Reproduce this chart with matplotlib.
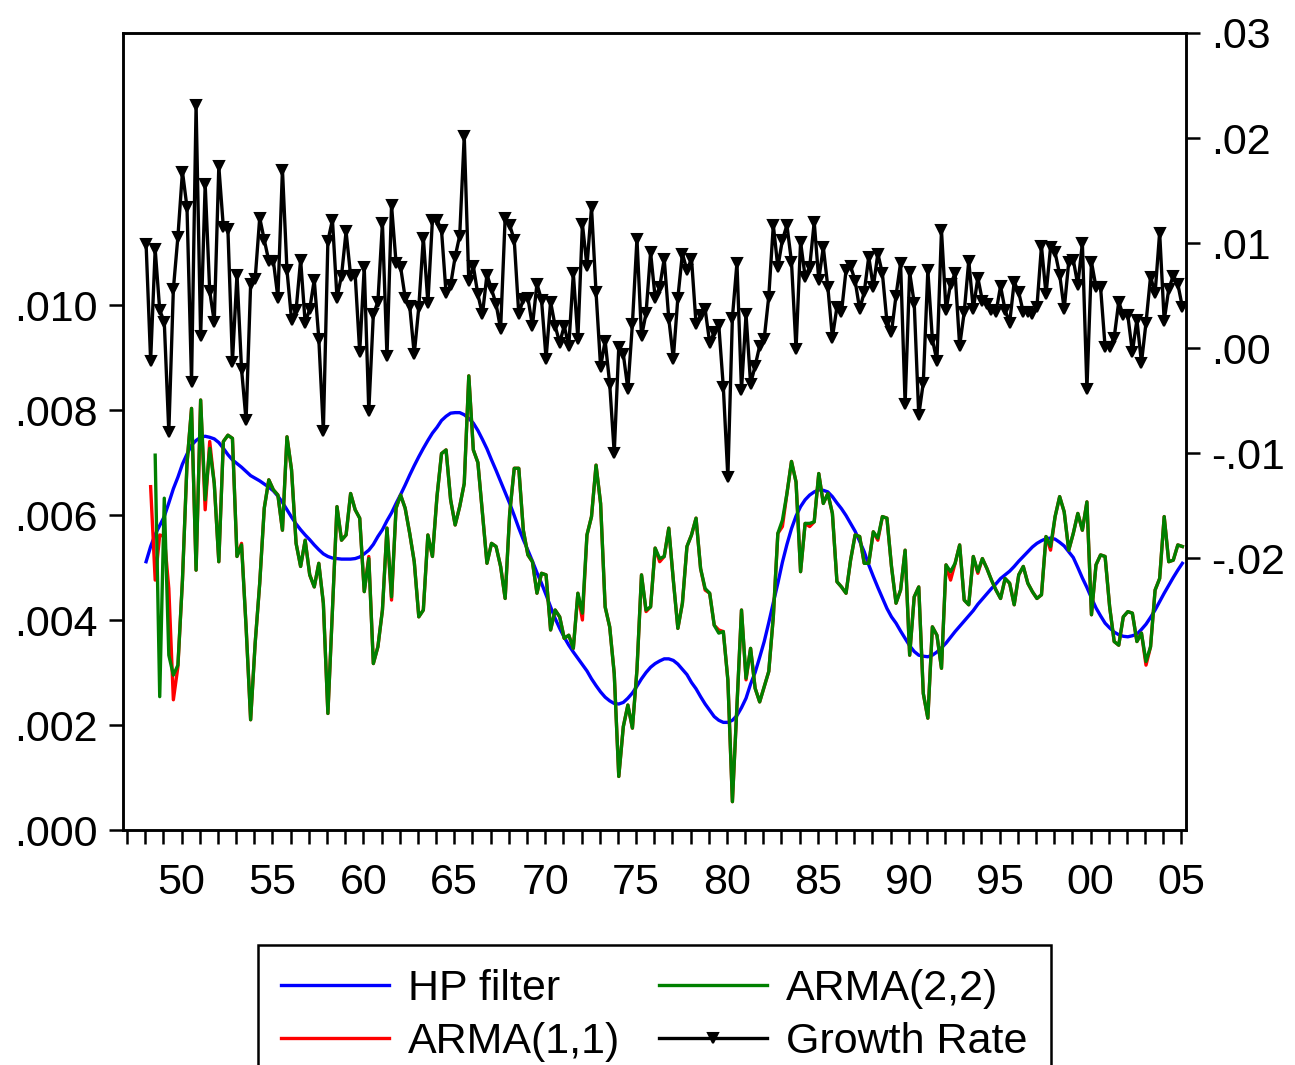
import numpy as np
import matplotlib.pyplot as plt

plt.rcParams['font.family'] = ['Liberation Sans', 'DejaVu Sans']

# quarterly series, 1948Q1 - 2005Q1, values in units of 0.001
growth = [9.9, -1.2, 9.4, 3.6, 2.5, -8.0, 5.6, 10.6, 16.8, 13.4,
          -3.2, 23.1, 1.1, 15.6, 5.4, 2.5, 17.3, 11.5, 11.3, -1.3,
          7.0, -2.0, -6.9, 6.1, 6.6, 12.4, 10.3, 8.3, 8.3, 4.8,
          17.0, 7.4, 2.7, 3.6, 8.4, 2.4, 3.7, 6.5, 0.9, -7.9,
          10.2, 12.2, 4.8, 6.9, 11.1, 6.9, 7.0, -0.4, 7.7, -6.0,
          3.2, 4.4, 11.9, -0.8, 13.6, 8.1, 7.7, 4.8, 4.0, -0.6,
          3.9, 10.5, 4.3, 12.2, 12.2, 11.2, 5.2, 6.0, 8.7, 10.7,
          20.2, 6.4, 7.8, 5.1, 3.2, 7.0, 5.6, 4.2, 1.8, 12.4,
          11.7, 10.3, 3.2, 4.7, 4.8, 2.1, 6.1, 4.6, -1.0, 4.4,
          2.1, 0.5, 2.1, 0.2, 7.1, 0.9, 11.8, 7.8, 13.4, 5.3,
          -1.8, 0.7, -3.4, -10.0, 0.1, -0.6, -3.9, 2.3, 10.4, 1.1,
          3.3, 9.1, 4.8, 5.8, 8.5, 2.8, -1.0, 4.8, 9.0, 7.4,
          8.5, 2.3, 3.1, 3.7, 0.5, 1.5, 2.2, -3.7, -12.3, 2.9,
          8.1, -4.0, 3.2, -3.4, -1.7, 0.2, 0.9, 4.9, 11.7, 7.7,
          10.3, 11.7, 8.2, -0.1, 10.1, 6.8, 7.7, 12.0, 6.5, 9.6,
          5.8, 1.0, 3.9, 3.4, 7.4, 7.8, 6.4, 3.7, 5.3, 8.7,
          5.8, 9.0, 7.1, 2.5, 1.5, 5.0, 8.1, -5.3, 7.2, 4.3,
          -6.4, -3.3, 7.4, 0.8, -1.2, 11.2, 3.6, 6.1, 7.1, 0.2,
          3.4, 8.3, 3.7, 6.7, 4.5, 4.2, 3.6, 3.4, 5.9, 3.6,
          2.4, 6.3, 5.3, 3.4, 3.4, 3.2, 3.9, 9.7, 5.1, 9.6,
          9.1, 7.0, 3.7, 8.2, 8.4, 6.0, 10.0, -3.9, 8.2, 5.8,
          5.8, 0.1, 0.1, 1.0, 4.4, 3.1, 3.1, -0.4, 2.7, -1.4,
          2.4, 6.8, 5.2, 11.0, 2.6, 5.6, 6.9, 6.1, 3.9]

hp = [5.11, 5.40, 5.63, 5.80, 5.97, 6.23, 6.50, 6.72, 6.97, 7.16,
      7.33, 7.42, 7.48, 7.50, 7.48, 7.45, 7.38, 7.27, 7.15, 7.05,
      6.98, 6.91, 6.83, 6.75, 6.70, 6.65, 6.59, 6.53, 6.46, 6.36,
      6.24, 6.10, 5.96, 5.83, 5.72, 5.62, 5.53, 5.43, 5.34, 5.26,
      5.21, 5.18, 5.17, 5.16, 5.16, 5.16, 5.17, 5.20, 5.26, 5.33,
      5.44, 5.59, 5.72, 5.89, 6.04, 6.22, 6.39, 6.57, 6.76, 6.94,
      7.11, 7.27, 7.42, 7.56, 7.67, 7.80, 7.88, 7.94, 7.95, 7.95,
      7.91, 7.84, 7.75, 7.61, 7.44, 7.26, 7.05, 6.85, 6.64, 6.43,
      6.22, 5.99, 5.75, 5.53, 5.33, 5.12, 4.90, 4.70, 4.48, 4.25,
      4.03, 3.84, 3.67, 3.52, 3.39, 3.27, 3.15, 3.03, 2.88, 2.75,
      2.63, 2.53, 2.46, 2.41, 2.40, 2.43, 2.51, 2.61, 2.74, 2.88,
      3.00, 3.10, 3.17, 3.22, 3.26, 3.26, 3.23, 3.16, 3.06, 2.96,
      2.81, 2.69, 2.54, 2.40, 2.28, 2.16, 2.09, 2.05, 2.05, 2.09,
      2.18, 2.33, 2.51, 2.78, 3.00, 3.29, 3.59, 3.95, 4.33, 4.70,
      5.10, 5.44, 5.74, 5.98, 6.16, 6.29, 6.38, 6.44, 6.48, 6.47,
      6.44, 6.35, 6.23, 6.12, 5.99, 5.84, 5.69, 5.50, 5.30, 5.05,
      4.83, 4.62, 4.42, 4.22, 4.06, 3.94, 3.79, 3.65, 3.51, 3.40,
      3.33, 3.31, 3.30, 3.33, 3.39, 3.47, 3.56, 3.67, 3.78, 3.88,
      3.98, 4.08, 4.18, 4.30, 4.40, 4.50, 4.60, 4.69, 4.79, 4.86,
      4.93, 5.02, 5.12, 5.21, 5.30, 5.39, 5.46, 5.51, 5.55, 5.56,
      5.54, 5.48, 5.41, 5.30, 5.19, 5.00, 4.80, 4.62, 4.42, 4.23,
      4.08, 3.94, 3.85, 3.77, 3.72, 3.69, 3.68, 3.70, 3.73, 3.82,
      3.92, 4.05, 4.19, 4.35, 4.51, 4.66, 4.81, 4.95, 5.08]

arma22 = [np.nan, np.nan, 7.14, 2.54, 6.32, 3.33, 2.95, 3.14, 4.76, 6.98,
          8.03, 4.95, 8.19, 6.29, 7.27, 6.60, 5.11, 7.40, 7.52, 7.46,
          5.21, 5.43, 3.87, 2.10, 3.56, 4.70, 6.13, 6.67, 6.48, 6.38,
          5.71, 7.49, 6.86, 5.46, 5.02, 5.52, 4.86, 4.63, 5.08, 4.32,
          2.22, 4.19, 6.16, 5.52, 5.62, 6.41, 6.10, 5.94, 4.54, 5.17,
          3.17, 3.49, 4.19, 5.75, 4.44, 6.13, 6.38, 6.13, 5.65, 5.11,
          4.06, 4.19, 5.62, 5.21, 6.35, 7.17, 7.24, 6.29, 5.81, 6.16,
          6.60, 8.65, 7.24, 7.00, 6.03, 5.08, 5.46, 5.40, 5.02, 4.41,
          6.03, 6.89, 6.89, 5.71, 5.24, 5.11, 4.51, 4.89, 4.86, 3.81,
          4.19, 4.06, 3.65, 3.71, 3.46, 4.51, 4.13, 5.62, 5.97, 6.95,
          6.22, 4.25, 3.87, 2.98, 1.02, 1.97, 2.38, 1.94, 3.05, 4.86,
          4.19, 4.25, 5.37, 5.17, 5.21, 5.75, 4.76, 3.84, 4.32, 5.40,
          5.62, 5.94, 4.98, 4.60, 4.51, 3.90, 3.75, 3.78, 2.86, 0.54,
          2.35, 4.19, 2.89, 3.46, 2.70, 2.44, 2.73, 3.02, 4.06, 5.65,
          5.90, 6.41, 7.02, 6.63, 4.92, 5.84, 5.84, 5.87, 6.79, 6.22,
          6.41, 6.03, 4.73, 4.63, 4.51, 5.14, 5.62, 5.59, 5.08, 5.08,
          5.68, 5.56, 5.97, 5.94, 5.02, 4.32, 4.57, 5.33, 3.33, 4.44,
          4.63, 2.60, 2.13, 3.87, 3.71, 3.08, 5.05, 4.92, 5.08, 5.43,
          4.38, 4.29, 5.21, 4.92, 5.17, 4.98, 4.76, 4.57, 4.41, 4.79,
          4.70, 4.29, 4.86, 5.02, 4.70, 4.54, 4.41, 4.48, 5.59, 5.40,
          5.97, 6.35, 6.06, 5.33, 5.65, 6.03, 5.71, 6.25, 4.10, 5.05,
          5.24, 5.21, 4.25, 3.59, 3.52, 4.06, 4.16, 4.13, 3.59, 3.75,
          3.21, 3.49, 4.57, 4.79, 5.97, 5.11, 5.14, 5.43, 5.40]

arma11 = [np.nan, 6.54, 4.76, 5.62, 5.59, 4.60, 2.48, 3.11, 4.76, 6.98,
          8.03, 4.95, 8.19, 6.10, 7.40, 6.60, 5.11, 7.40, 7.52, 7.46,
          5.21, 5.46, 3.87, 2.10, 3.56, 4.70, 6.13, 6.67, 6.48, 6.38,
          5.71, 7.49, 6.86, 5.46, 5.02, 5.52, 4.86, 4.63, 5.08, 4.32,
          2.22, 4.19, 6.16, 5.52, 5.62, 6.41, 6.10, 5.94, 4.54, 5.21,
          3.17, 3.49, 4.19, 5.75, 4.38, 6.13, 6.38, 6.13, 5.65, 5.11,
          4.06, 4.19, 5.62, 5.21, 6.35, 7.17, 7.24, 6.29, 5.81, 6.16,
          6.60, 8.65, 7.24, 7.00, 6.03, 5.08, 5.46, 5.40, 5.02, 4.41,
          6.03, 6.89, 6.89, 5.71, 5.24, 5.11, 4.51, 4.89, 4.86, 3.81,
          4.19, 4.06, 3.65, 3.71, 3.46, 4.51, 4.00, 5.62, 5.97, 6.95,
          6.22, 4.25, 3.87, 2.98, 1.02, 1.97, 2.38, 1.94, 3.05, 4.86,
          4.16, 4.25, 5.37, 5.11, 5.21, 5.75, 4.76, 3.84, 4.32, 5.40,
          5.62, 5.94, 4.98, 4.57, 4.51, 3.90, 3.81, 3.78, 2.86, 0.54,
          2.35, 4.19, 2.86, 3.46, 2.70, 2.44, 2.73, 3.02, 4.06, 5.65,
          5.78, 6.41, 7.02, 6.63, 4.92, 5.84, 5.78, 5.87, 6.79, 6.22,
          6.41, 6.03, 4.73, 4.63, 4.51, 5.14, 5.62, 5.59, 5.08, 5.08,
          5.68, 5.52, 5.97, 5.94, 5.02, 4.32, 4.57, 5.33, 3.33, 4.44,
          4.63, 2.60, 2.13, 3.87, 3.71, 3.08, 5.05, 4.76, 5.08, 5.43,
          4.38, 4.29, 5.21, 4.89, 5.17, 4.98, 4.76, 4.57, 4.41, 4.79,
          4.70, 4.29, 4.86, 5.02, 4.70, 4.54, 4.41, 4.48, 5.59, 5.33,
          5.97, 6.35, 6.06, 5.33, 5.65, 6.03, 5.71, 6.25, 4.10, 5.05,
          5.24, 5.21, 4.25, 3.59, 3.52, 4.06, 4.16, 4.13, 3.59, 3.75,
          3.14, 3.49, 4.57, 4.79, 5.97, 5.11, 5.14, 5.43, 5.40]

left_ticks = [0.0, 0.002, 0.004, 0.006, 0.008, 0.010]
left_labels = ['.000', '.002', '.004', '.006', '.008', '.010']
right_ticks = [-0.02, -0.01, 0.0, 0.01, 0.02, 0.03]
right_labels = ['-.02', '-.01', '.00', '.01', '.02', '.03']
year_ticks = list(range(1950, 2006, 5))
year_labels = ['50', '55', '60', '65', '70', '75', '80', '85', '90', '95', '00', '05']

n = len(growth)
t = 1948.05 + 0.25 * np.arange(n)
scale = 0.001

fig = plt.figure(figsize=(12.95, 10.65), dpi=100)
ax = fig.add_axes([123 / 1295, 235 / 1065, 1063 / 1295, 797 / 1065])
ax2 = ax.twinx()

l1, = ax.plot(t, np.array(hp) * scale, color='#0000ff', lw=2.4)
l2, = ax.plot(t, np.array(arma11) * scale, color='#ff0000', lw=2.4)
l3, = ax.plot(t, np.array(arma22) * scale, color='#008000', lw=2.4)
l4, = ax2.plot(t, np.array(growth) * scale, color='black', lw=2.4,
               marker='v', ms=7.5, mfc='black', mec='black', mew=1.5)

ax.set_xlim(1946.78, 2005.25)
ax.set_ylim(0, 0.015181)
ax2.set_ylim(-0.0459, 0.03)

ax.set_xticks(year_ticks)
ax.set_xticklabels(year_labels)
ax.set_xticks(range(1947, 2006), minor=True)
ax.set_yticks(left_ticks)
ax.set_yticklabels(left_labels)
ax2.set_yticks(right_ticks)
ax2.set_yticklabels(right_labels)

for a in (ax, ax2):
    for s in a.spines.values():
        s.set_linewidth(1.8)
    a.tick_params(which='both', direction='out', length=10, width=1.8,
                  labelsize=31, pad=8)
ax.tick_params(axis='x', pad=14)

leg = fig.legend([l1, l2, l3, l4], ['HP filter', 'ARMA(1,1)', 'ARMA(2,2)', 'Growth Rate'],
                 ncol=2, loc='upper center', bbox_to_anchor=(0.5054, 0.1127),
                 borderaxespad=0, fontsize=31, handlelength=2.5, handletextpad=0.45,
                 columnspacing=0.9, borderpad=0.55, labelspacing=0.3,
                 fancybox=False, edgecolor='black', framealpha=1)
leg.get_frame().set_linewidth(1.8)

fig.savefig('out.png', dpi=100)
